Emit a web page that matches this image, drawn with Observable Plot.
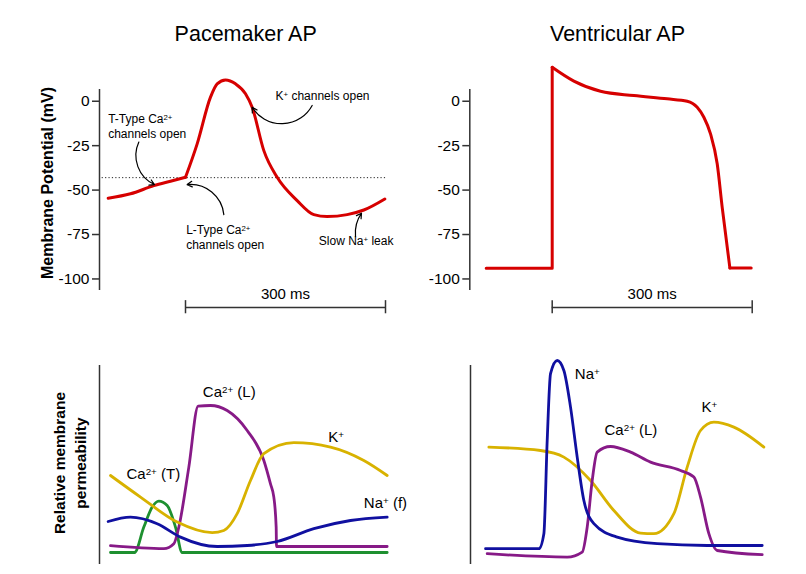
<!DOCTYPE html>
<html><head><meta charset="utf-8">
<script src="https://cdn.jsdelivr.net/npm/d3@7"></script>
<script src="https://cdn.jsdelivr.net/npm/@observablehq/plot@0.6"></script>
<style>
body{margin:0;background:#fff;}
#wrap{position:relative;width:806px;height:574px;overflow:hidden;background:#fff;font-family:"Liberation Sans",Arial,Helvetica,sans-serif;color:#000;}
.title{position:absolute;font-size:21.5px;line-height:21.5px;white-space:nowrap;transform:translateX(-50%);}
.ylab{position:absolute;font-weight:bold;white-space:nowrap;text-align:center;transform:translate(-50%,-50%) rotate(-90deg);}
</style></head><body><div id="wrap"></div><script>
// ---------- data ----------
const titles = ["Pacemaker AP", "Ventricular AP"];
const yLabelTop = "Membrane Potential (mV)";
const yLabelBottom = ["Relative membrane", "permeability"];
const mvTicks = [0, -25, -50, -75, -100];
const scaleBarMs = [0, 300];
const scaleBarLabel = "300 ms";
const threshold = -43;

// Pacemaker action potential (ms, mV)
const paceDiastoleT = [-116, -82.5, -47.5, -22.5, 0];
const paceDiastoleV = [-54.6, -52.1, -47.5, -45, -42.8];
const paceSpikeT = [0, 17.5, 37.5, 47.5, 60, 75, 90, 100, 117.5, 137.5, 167.5, 192.5, 212.5, 242.5, 267.5, 299];
const paceSpikeV = [-42.8, -24, 2.3, 9.8, 12, 9.8, 4.2, -3.4, -27.8, -42.8, -55.9, -63.8, -64.9, -63.8, -61.2, -55];

// Ventricular action potential (ms, mV)
const ventRestT = [-99, 0, 0];
const ventRestV = [-94, -94, 19.1];
const ventPlateauT = [0, 32.5, 72.5, 122.5, 172.5, 202.5, 217.5, 227.5, 237.5, 247.5, 255, 266.5];
const ventPlateauV = [19.1, 11.3, 5.6, 3.2, 1.35, 0, -3.4, -9, -18.4, -35.2, -59.7, -93.8];
const ventEndT = [266.5, 298.5];
const ventEndV = [-93.8, -93.8];

// Pacemaker permeabilities (ms, relative units)
const pkT = [-112.5, -67.5, -12.5, 40, 57.5, 77.5, 97.5, 117.5, 162.5, 217.5, 267.5, 302.5];
const pkV = [44.5, 33.7, 21.2, 15.9, 17, 25.4, 42, 55.4, 60.9, 58.7, 52, 44.5];
const pnaT = [-116, -82.5, -42.5, -7.5, 47.5, 92.5, 137.5, 192.5, 247.5, 302.5];
const pnaV = [21.5, 23.7, 20.4, 13.7, 9, 9.5, 11.5, 17.9, 22, 23.7];
const pcatT = [-112.5, -76.5, -62.5, -50, -40, -27.5, -15, -5, 302.5];
const pcatV = [6, 6, 18.7, 28.7, 31.7, 29.5, 18.7, 6, 6];
const pcalT = [-112.5, -32.5, -17.5, -10, 5, 19, 37.5, 62.5, 92.5, 117.5, 127.5, 132.5, 136, 136.5, 302.5];
const pcalV = [9.4, 7.9, 10.4, 18.7, 48.7, 79.2, 79.5, 77, 67, 52, 40.3, 33.7, 18.7, 9, 9];

// Ventricular permeabilities (ms, relative units)
const vnaT = [-100, -20, -12.5, -7.5, -2.5, 7.5, 17.5, 27.5, 37.5, 47.5, 62.5, 97.5, 157.5, 232.5, 315];
const vnaV = [7.9, 7.9, 15.4, 62, 95.4, 102, 97, 78.7, 53.7, 32, 20.4, 13.7, 10.4, 9.5, 9.5];
const vcalT = [-97.5, 22.5, 45, 52.5, 60, 67.5, 87.5, 117.5, 147.5, 192.5, 212.5, 222.5, 235, 247.5, 315];
const vcalV = [5.4, 3.7, 6.2, 18.7, 42, 56.2, 59, 56.2, 51.2, 47, 43.7, 33.7, 15.4, 7, 4.9];
const vkT = [-95, -17.5, 17.5, 57.5, 92.5, 132.5, 152.5, 182.5, 202.5, 222.5, 242.5, 272.5, 317.5];
const vkV = [58.7, 57, 53.7, 42, 27, 15.7, 15.4, 25.4, 48.7, 67, 71.2, 68.7, 58.7];

// annotation texts
const paceNotes = [
  {t: 135, v: 3.6, text: "K^{+} channels open"},
  {t: -116, v: -13.6, text: "T-Type Ca^{2+}\nchannels open"},
  {t: 1, v: -76, text: "L-Type Ca^{2+}\nchannels open"},
  {t: 200, v: -78, text: "Slow Na^{+} leak"}
];
const paceArrows = [
  {x1: 190, y1: -2.4, x2: 100, y2: -3.4, bend: 60},
  {x1: -70, y1: -23, x2: -46.5, y2: -46.9, bend: -45},
  {x1: 57.5, y1: -63.8, x2: 2.5, y2: -46.9, bend: -45},
  {x1: 255, y1: -76.2, x2: 264, y2: -63, bend: 20}
];
const paceIonLabels = [
  {t: 26, v: 86.2, text: "Ca^{2+} (L)"},
  {t: 214, v: 63.7, text: "K^{+}"},
  {t: -88.5, v: 45.4, text: "Ca^{2+} (T)"},
  {t: 267.5, v: 30.7, text: "Na^{+} (f)"}
];
const ventIonLabels = [
  {t: 34, v: 95.4, text: "Na^{+}"},
  {t: 78.5, v: 67.4, text: "Ca^{2+} (L)"},
  {t: 224, v: 78.7, text: "K^{+}"}
];

// ---------- helpers ----------
const FONT = '"Liberation Sans", Arial, Helvetica, sans-serif';
const RED = "#d60000", GOLD = "#d8b200", PURPLE = "#871a87", NAVY = "#1010a0", GREEN = "#1e9030", AX = "#333";
const rows = (ts, vs) => ts.map((t, i) => ({t, v: vs[i]}));
const wrap = document.getElementById("wrap");
const style = {fontFamily: FONT, fontSize: "12px", background: "transparent", color: "#000", overflow: "visible"};

function supify(svg) {
  const walker = document.createTreeWalker(svg, NodeFilter.SHOW_TEXT);
  const nodes = [];
  while (walker.nextNode()) if (walker.currentNode.nodeValue.includes("^{")) nodes.push(walker.currentNode);
  for (const n of nodes) {
    const frag = document.createDocumentFragment();
    for (const p of n.nodeValue.split(/(\^\{[^}]*\})/)) {
      if (!p) continue;
      const m = p.match(/^\^\{(.*)\}$/);
      if (m) {
        const ts = document.createElementNS("http://www.w3.org/2000/svg", "tspan");
        ts.setAttribute("baseline-shift", "38%");
        ts.setAttribute("font-size", "0.65em");
        ts.textContent = m[1];
        frag.appendChild(ts);
      } else frag.appendChild(document.createTextNode(p));
    }
    n.parentNode.replaceChild(frag, n);
  }
}
function mount(el, left, top) {
  el.style.position = "absolute";
  el.style.left = left + "px";
  el.style.top = top + "px";
  supify(el);
  wrap.appendChild(el);
}
function scaleBar(y, capLo, capHi, labelY) {
  return [
    Plot.ruleY([y], {x1: scaleBarMs[0], x2: scaleBarMs[1], stroke: AX, strokeWidth: 1.5}),
    Plot.ruleX(scaleBarMs, {y1: capLo, y2: capHi, stroke: AX, strokeWidth: 1.5}),
    Plot.text([scaleBarLabel], {x: (scaleBarMs[0] + scaleBarMs[1]) / 2, y: labelY, fontSize: 15})
  ];
}
const mvAxis = () => Plot.axisY({ticks: mvTicks, tickSize: 7, tickPadding: 3, fontSize: 15.5, label: null, stroke: AX, strokeWidth: 1.5, tickFormat: d => String(d)});

// ---------- top-left: pacemaker AP ----------
mount(Plot.plot({
  width: 403, height: 320, marginLeft: 99, marginRight: 8, marginTop: 89, marginBottom: 30,
  x: {domain: [-129, 315], axis: null},
  y: {domain: [-106.5, 6.6]},
  style,
  marks: [
    Plot.ruleX([-129], {y1: -106.5, y2: 6.6, stroke: AX, strokeWidth: 1.5}),
    mvAxis(),
    Plot.ruleY([threshold], {x1: -125, x2: 303, stroke: "#222", strokeWidth: 1, strokeDasharray: "1.2,2.2"}),
    ...scaleBar(-116, -112.2, -119.6, -108.5),
    Plot.line(rows(paceDiastoleT, paceDiastoleV), {x: "t", y: "v", stroke: RED, strokeWidth: 3, curve: "monotone-x"}),
    Plot.line(rows(paceSpikeT, paceSpikeV), {x: "t", y: "v", stroke: RED, strokeWidth: 3, curve: "monotone-x"}),
    ...paceArrows.map(a => Plot.arrow([a], {x1: "x1", y1: "y1", x2: "x2", y2: "y2", bend: a.bend, stroke: "#000", strokeWidth: 1.2, headLength: 7})),
    Plot.text(paceNotes, {x: "t", y: "v", text: "text", textAnchor: "start", fontSize: 12, lineHeight: 1.25})
  ]
}), 0, 0);

// ---------- top-right: ventricular AP ----------
mount(Plot.plot({
  width: 403, height: 320, marginLeft: 66.3, marginRight: 8, marginTop: 89, marginBottom: 30,
  x: {domain: [-123.6, 369.45], axis: null},
  y: {domain: [-106.5, 6.6]},
  style,
  marks: [
    Plot.ruleX([-123.6], {y1: -106.5, y2: 6.6, stroke: AX, strokeWidth: 1.5}),
    mvAxis(),
    ...scaleBar(-116, -112.2, -119.6, -108.5),
    Plot.line(rows(ventRestT, ventRestV), {x: "t", y: "v", stroke: RED, strokeWidth: 3}),
    Plot.line(rows(ventPlateauT, ventPlateauV), {x: "t", y: "v", stroke: RED, strokeWidth: 3, curve: "monotone-x"}),
    Plot.line(rows(ventEndT, ventEndV), {x: "t", y: "v", stroke: RED, strokeWidth: 3})
  ]
}), 403, 0);

// ---------- bottom-left: pacemaker permeabilities ----------
mount(Plot.plot({
  width: 403, height: 244, marginLeft: 99, marginRight: 8, marginTop: 35, marginBottom: 10,
  x: {domain: [-129, 315], axis: null},
  y: {domain: [0, 99.5], axis: null},
  style,
  marks: [
    Plot.ruleX([-129], {y1: 0, y2: 99.5, stroke: AX, strokeWidth: 1.5}),
    Plot.line(rows(pcatT, pcatV), {x: "t", y: "v", stroke: GREEN, strokeWidth: 2.8, curve: "monotone-x"}),
    Plot.line(rows(pcalT, pcalV), {x: "t", y: "v", stroke: PURPLE, strokeWidth: 2.8, curve: "monotone-x"}),
    Plot.line(rows(pnaT, pnaV), {x: "t", y: "v", stroke: NAVY, strokeWidth: 2.8, curve: "monotone-x"}),
    Plot.line(rows(pkT, pkV), {x: "t", y: "v", stroke: GOLD, strokeWidth: 2.8, curve: "monotone-x"}),
    Plot.text(paceIonLabels, {x: "t", y: "v", text: "text", textAnchor: "start", fontSize: 15})
  ]
}), 0, 330);

// ---------- bottom-right: ventricular permeabilities ----------
mount(Plot.plot({
  width: 403, height: 244, marginLeft: 67, marginRight: 8, marginTop: 35, marginBottom: 10,
  x: {domain: [-122.55, 369.45], axis: null},
  y: {domain: [0, 99.5], axis: null},
  style,
  marks: [
    Plot.ruleX([-122.55], {y1: 0, y2: 99.5, stroke: AX, strokeWidth: 1.5}),
    Plot.line(rows(vkT, vkV), {x: "t", y: "v", stroke: GOLD, strokeWidth: 2.8, curve: "monotone-x"}),
    Plot.line(rows(vcalT, vcalV), {x: "t", y: "v", stroke: PURPLE, strokeWidth: 2.8, curve: "monotone-x"}),
    Plot.line(rows(vnaT, vnaV), {x: "t", y: "v", stroke: NAVY, strokeWidth: 2.8, curve: "monotone-x"}),
    Plot.text(ventIonLabels, {x: "t", y: "v", text: "text", textAnchor: "start", fontSize: 15})
  ]
}), 403, 330);

// ---------- titles and axis labels ----------
function addDiv(cls, text, css) {
  const d = document.createElement("div");
  d.className = cls;
  d.innerHTML = text;
  Object.assign(d.style, css);
  wrap.appendChild(d);
}
addDiv("title", titles[0], {left: "245.7px", top: "24px"});
addDiv("title", titles[1], {left: "617.5px", top: "24px"});
addDiv("ylab", yLabelTop, {left: "48px", top: "183px", fontSize: "16px", lineHeight: "16px"});
addDiv("ylab", yLabelBottom.join("<br>"), {left: "69.5px", top: "463px", fontSize: "15.5px", lineHeight: "21px"});
</script></body></html>
